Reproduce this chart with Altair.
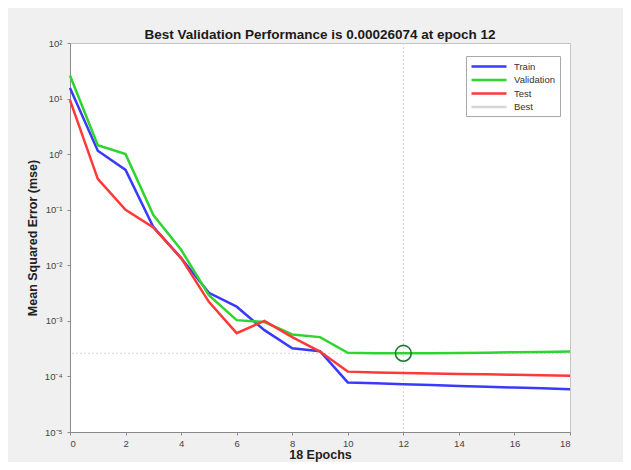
import altair as alt
import pandas as pd

# ---- data ----
epochs = list(range(19))
train = [15.5, 1.15, 0.52, 0.049, 0.0135, 3.2e-3, 1.8e-3, 6.8e-4, 3.2e-4, 2.85e-4,
         7.8e-5, 7.5e-5, 7.2e-5, 7.0e-5, 6.7e-5, 6.5e-5, 6.3e-5, 6.1e-5, 5.9e-5]
validation = [26.0, 1.45, 1.0, 0.08, 0.019, 2.9e-3, 1.03e-3, 9.5e-4, 5.7e-4, 5.1e-4,
              2.66e-4, 2.62e-4, 2.6074e-4, 2.62e-4, 2.65e-4, 2.68e-4, 2.72e-4, 2.76e-4, 2.8e-4]
test = [9.4, 0.36, 0.1, 0.048, 0.0135, 2.2e-3, 6.0e-4, 1.0e-3, 5.1e-4, 2.8e-4,
        1.22e-4, 1.18e-4, 1.15e-4, 1.13e-4, 1.11e-4, 1.09e-4, 1.07e-4, 1.05e-4, 1.03e-4]
series_names = ["Train", "Validation", "Test", "Best"]
series_colors = ["#3a3aff", "#2ed52e", "#ff3838", "#d6d6d6"]
best_epoch = 12
best_value = 0.00026074
x_ticks = list(range(0, 19, 2))
y_ticks = [1e-5, 1e-4, 1e-3, 1e-2, 1e-1, 1e0, 1e1, 1e2]
y_tick_labels = ["10⁻⁵", "10⁻⁴", "10⁻³", "10⁻²", "10⁻¹", "10⁰", "10¹", "10²"]
title_text = "Best Validation Performance is 0.00026074 at epoch 12"
x_title = "18 Epochs"
y_title = "Mean Squared Error (mse)"

FONT = "Liberation Sans"

rows = []
for name, vals in zip(series_names[:3], [train, validation, test]):
    for e, v in zip(epochs, vals):
        rows.append({"epoch": e, "value": v, "series": name})
df = pd.DataFrame(rows)

best_v = pd.DataFrame({"epoch": [best_epoch], "series": ["Best"]})
best_h = pd.DataFrame({"value": [best_value], "series": ["Best"]})
best_pt = pd.DataFrame({"epoch": [best_epoch], "value": [best_value]})

label_expr = "[" + ",".join("'%s'" % s for s in y_tick_labels) + "][round(log(datum.value)/LN10)+5]"

xscale = alt.Scale(domain=[0, 18], nice=False, zero=False)
yscale = alt.Scale(type="log", domain=[1e-5, 1e2], nice=False)

color = alt.Color(
    "series:N",
    scale=alt.Scale(domain=series_names, range=series_colors),
    legend=alt.Legend(
        title=None, orient="none", legendX=396, legendY=13,
        fillColor="white", strokeColor="#a8a8a8", padding=4,
        symbolType="M-1,0H6", symbolSize=100, symbolStrokeWidth=2.5,
        labelOffset=31, labelFontSize=9.5, labelFont=FONT, labelColor="#333333",
        rowPadding=1.5,
    ),
    sort=series_names,
)

xax = alt.X("epoch:Q", scale=xscale,
            axis=alt.Axis(values=x_ticks, title=x_title, grid=False, labelAngle=0,
                          tickSize=3, labelPadding=3, titlePadding=0.5))
yax = alt.Y("value:Q", scale=yscale,
            axis=alt.Axis(values=y_ticks, labelExpr=label_expr, title=y_title, grid=False,
                          tickSize=3, labelPadding=5, titlePadding=5))

rule_v = alt.Chart(best_v).mark_rule(strokeDash=[2, 2], strokeWidth=1).encode(
    x=alt.X("epoch:Q", scale=xscale), color=color)
rule_h = alt.Chart(best_h).mark_rule(strokeDash=[2, 2], strokeWidth=1).encode(
    y=alt.Y("value:Q", scale=yscale), color=color)
lines = alt.Chart(df).mark_line(strokeWidth=2.5).encode(
    x=xax, y=yax, color=color, order=alt.Order("epoch:Q"))
pt = alt.Chart(best_pt).mark_point(shape="circle", filled=False, size=250,
                                   strokeWidth=1.6, color="#1f7a33", opacity=1).encode(
    x=alt.X("epoch:Q", scale=xscale), y=alt.Y("value:Q", scale=yscale))

chart = alt.layer(rule_v, rule_h, lines, pt).properties(
    width=500, height=389,
    title=alt.TitleParams(title_text, fontSize=13.5, fontWeight="bold", font=FONT,
                          anchor="middle", offset=1, dy=4, color="#1a1a1a"),
    padding={"left": 62, "top": 35, "right": 53, "bottom": 30},
    autosize=alt.AutoSizeParams(type="none"),
).configure(background="#f0f0f0").configure_view(
    fill="white", stroke="#c4c4c4", strokeWidth=1
).configure_axis(
    labelFont=FONT, titleFont=FONT, labelFontSize=9.5, titleFontSize=12.5,
    labelColor="#444444", titleColor="#222222", titleFontWeight="bold",
    domainColor="#8a8a8a", tickColor="#8a8a8a",
)

chart.save("out.html", embed_options={"renderer": "svg", "actions": False})
